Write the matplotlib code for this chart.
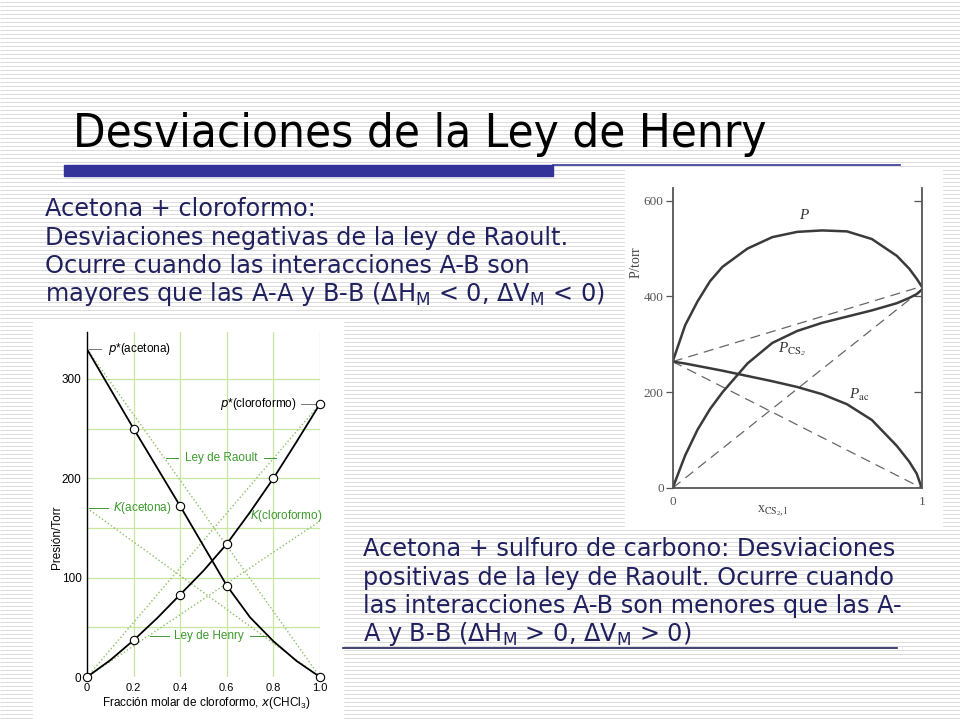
import numpy as np
import matplotlib
matplotlib.use("Agg")
import matplotlib.pyplot as plt
from matplotlib.patches import Rectangle

plt.rcParams['mathtext.default'] = 'regular'

# --- datos: acetona + cloroformo (izquierda) ---
x_cl = [0, 0.1, 0.2, 0.3, 0.4, 0.5, 0.6, 0.7, 0.8, 0.9, 1.0]
p_acetona = [330, 290, 250, 211, 172, 132, 92, 60, 36, 16, 0]
p_cloroformo = [0, 17, 37, 59, 83, 107, 134, 166, 200, 237, 275]
x_pts_acet = [0.2, 0.4, 0.6, 1.0]
p_pts_acet = [250, 172, 92, 0]
x_pts_clor = [0, 0.2, 0.4, 0.6, 0.8, 1.0]
p_pts_clor = [0, 37, 83, 134, 200, 275]
k_acetona = 170
k_cloroformo = 157

# --- datos: acetona + CS2 (derecha) ---
x_cs2 = [0, 0.05, 0.1, 0.15, 0.2, 0.3, 0.4, 0.5, 0.6, 0.7, 0.8, 0.9, 0.95, 0.98, 1.0]
p_total = [264, 340, 390, 432, 462, 500, 524, 535, 538, 536, 520, 485, 458, 437, 421]
p_cs2 = [0, 68, 122, 165, 200, 260, 303, 328, 345, 358, 371, 386, 397, 405, 414]
p_ac = [264, 260, 255, 250, 245, 234, 223, 211, 196, 175, 142, 88, 55, 30, 0]

navy = '#20205e'
fig = plt.figure(figsize=(9.6, 7.2), dpi=100)

# fondo de la diapositiva (coordenadas en pixeles)
bg = fig.add_axes([0, 0, 1, 1])
bg.set_xlim(0, 960)
bg.set_ylim(720, 0)
bg.axis('off')
bg.hlines(np.arange(1.5, 720, 4), 0, 960, color='#dcdcdc', lw=0.72, zorder=0)
bg.add_patch(Rectangle((33, 320), 310, 400, color='white', zorder=1))
bg.add_patch(Rectangle((625, 168), 317, 358, color='white', zorder=1))
bg.add_patch(Rectangle((64, 165), 489, 11, color='#333399', zorder=2))
bg.plot([553, 900], [164.5, 164.5], color='#333399', lw=1.2, zorder=2)
bg.plot([343, 897], [648, 648], color=navy, lw=1.2, zorder=2)

bg.text(73, 147, 'Desviaciones de la Ley de Henry', fontsize=34,
        family='DejaVu Sans', fontstretch='condensed', va='baseline', zorder=3)

lines1 = ['Acetona + cloroformo:',
          'Desviaciones negativas de la ley de Raoult.',
          'Ocurre cuando las interacciones A-B son',
          r'mayores que las A-A y B-B ($\Delta$H$_M$ < 0, $\Delta$V$_M$ < 0)']
for i, s in enumerate(lines1):
    bg.text(45, 216 + 28.5 * i, s, fontsize=17.3, color=navy, va='baseline', zorder=3)

lines2 = ['Acetona + sulfuro de carbono: Desviaciones',
          'positivas de la ley de Raoult. Ocurre cuando',
          'las interacciones A-B son menores que las A-',
          r'A y B-B ($\Delta$H$_M$ > 0, $\Delta$V$_M$ > 0)']
for i, s in enumerate(lines2):
    bg.text(363, 556 + 28.5 * i, s, fontsize=17.3, color=navy, va='baseline', zorder=3)

# --- grafico izquierdo ---
green = '#c8e6a0'
dot = '#8cc063'
lab = '#3d9a2e'
ax = fig.add_axes([87 / 960, 43 / 720, 233 / 960, 344.7 / 720])
ax.set_xlim(0, 1.0)
ax.set_ylim(0, 347)
ax.patch.set_alpha(0)
for s in ['top', 'right', 'bottom']:
    ax.spines[s].set_visible(False)
ax.spines['left'].set_linewidth(1.0)
for gx in [0.2, 0.4, 0.6, 0.8, 1.0]:
    ax.axvline(gx, color=green, lw=0.9, zorder=0)
for gy in [50, 100, 150, 200, 250, 300]:
    ax.axhline(gy, color=green, lw=0.9, zorder=0)
ax.plot([0, 1], [p_acetona[0], 0], ls=':', color=dot, lw=1)
ax.plot([0, 1], [0, p_cloroformo[-1]], ls=':', color=dot, lw=1)
ax.plot([0, 1], [k_acetona, 0], ls=':', color=dot, lw=1)
ax.plot([0, 1], [0, k_cloroformo], ls=':', color=dot, lw=1)
ax.plot(x_cl, p_acetona, color='black', lw=1.3, zorder=3)
ax.plot(x_cl, p_cloroformo, color='black', lw=1.3, zorder=3)
ax.plot(x_pts_acet, p_pts_acet, 'o', mfc='white', mec='black', ms=6, mew=0.8, zorder=4, clip_on=False)
ax.plot(x_pts_clor, p_pts_clor, 'o', mfc='white', mec='black', ms=6, mew=0.8, zorder=4, clip_on=False)
ax.set_xticks([0, 0.2, 0.4, 0.6, 0.8, 1.0])
ax.set_xticklabels(['0', '0.2', '0.4', '0.6', '0.8', '1.0'])
ax.set_yticks([0, 100, 200, 300])
ax.tick_params(axis='y', length=0, labelsize=8.5, pad=4)
ax.tick_params(axis='x', length=0, labelsize=8, pad=4)
for t in ax.get_xticklabels() + ax.get_yticklabels():
    t.set_family('Liberation Sans')

tf = dict(family='Liberation Sans', fontsize=8.5)
ax.plot([0.01, 0.06], [p_acetona[0], p_acetona[0]], color='#777', lw=0.7)
ax.text(0.09, p_acetona[0], r'$\it{p}$*(acetona)', va='center', **tf)
ax.plot([0.92, 0.98], [p_cloroformo[-1], p_cloroformo[-1]], color='#777', lw=0.7)
ax.text(0.9, p_cloroformo[-1], r'$\it{p}$*(cloroformo)', va='center', ha='right', **tf)
ax.plot([0.01, 0.09], [k_acetona, k_acetona], color=lab, lw=0.7)
ax.text(0.11, k_acetona, r'$\it{K}$(acetona)', va='center', color=lab, **tf)
ax.text(0.7, 162, r'$\it{K}$(cloroformo)', va='center', color=lab, **tf)
ax.plot([0.34, 0.39], [220, 220], color=lab, lw=0.7)
ax.plot([0.76, 0.81], [220, 220], color=lab, lw=0.7)
ax.text(0.575, 220, 'Ley de Raoult', va='center', ha='center', color=lab, **tf)
ax.plot([0.27, 0.35], [41, 41], color=lab, lw=0.7)
ax.plot([0.70, 0.77], [41, 41], color=lab, lw=0.7)
ax.text(0.525, 41, 'Ley de Henry', va='center', ha='center', color=lab, **tf)

bg.text(57, 537, 'Presión/Torr', rotation=90, va='center', ha='center', **tf)
bg.text(206, 703, r'Fracción molar de cloroformo, $\it{x}$(CHCl$_3$)', va='center', ha='center', **tf)

# --- grafico derecho ---
gr = '#3a3a3a'
ax2 = fig.add_axes([672.7 / 960, 232 / 720, 249 / 960, 299.7 / 720])
ax2.set_xlim(0, 1)
ax2.set_ylim(0, 626)
ax2.patch.set_alpha(0)
ax2.spines['top'].set_visible(False)
for s in ['left', 'right', 'bottom']:
    ax2.spines[s].set_color('#555')
    ax2.spines[s].set_linewidth(1.3)
ax2.plot([0, 1], [p_total[0], p_total[-1]], ls=(0, (8, 5)), color='#666', lw=0.9)
ax2.plot([0, 1], [p_ac[0], 0], ls=(0, (8, 5)), color='#666', lw=0.9)
ax2.plot([0, 1], [0, p_cs2[-1]], ls=(0, (8, 5)), color='#666', lw=0.9)
ax2.plot(x_cs2, p_total, color=gr, lw=1.8)
ax2.plot(x_cs2, p_cs2, color=gr, lw=1.8)
ax2.plot(x_cs2, p_ac, color=gr, lw=1.8)
ax2.set_xticks([0, 1])
ax2.set_xticklabels(['0', '1'])
ax2.set_yticks([0, 200, 400, 600])
ax2.tick_params(axis='y', direction='out', length=5, width=0.9, color='#555',
                labelsize=9.5, labelcolor='#555', pad=1.5)
ax2.tick_params(axis='x', length=0, labelsize=9.5, labelcolor='#555', pad=6)
for t in ax2.get_xticklabels() + ax2.get_yticklabels():
    t.set_family('Liberation Serif')
sec = ax2.secondary_yaxis('right')
sec.set_yticks([200, 400, 600])
sec.tick_params(direction='in', length=6, width=0.9, color='#555', labelright=False)
sec.spines['right'].set_visible(False)

plt.rcParams['mathtext.fontset'] = 'stix'
sf = dict(family='Liberation Serif', color='#333', style='italic')
ax2.text(0.525, 555, 'P', fontsize=11, ha='center', va='bottom', **sf)
ax2.text(0.48, 290, r'$P_{\mathrm{CS}_2}$', fontsize=11, ha='center', va='center', **sf)
ax2.text(0.75, 195, r'$P_{\mathrm{ac}}$', fontsize=11, ha='center', va='center', **sf)
bg.text(636, 262, r'$P$/torr', rotation=90, fontsize=10, va='center', ha='center',
        family='Liberation Serif', color='#444')
bg.text(773, 511, r'$x_{\mathrm{CS}_2,l}$', fontsize=10, va='center', ha='center',
        family='Liberation Serif', color='#444')

fig.savefig('out.png', dpi=100)
